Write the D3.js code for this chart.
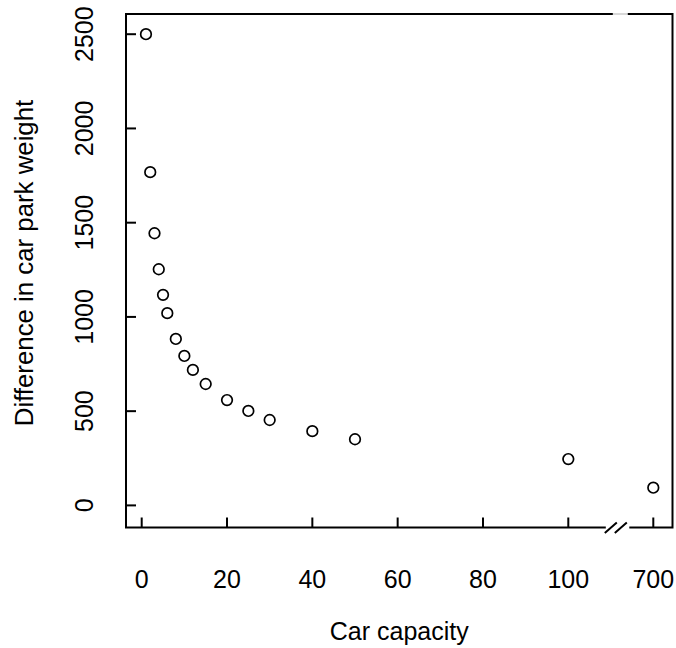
<!DOCTYPE html>
<html>
<head>
<meta charset="utf-8">
<script src="https://cdn.jsdelivr.net/npm/d3@7"></script>
<style>
  html, body { margin: 0; padding: 0; background: #fff; }
  svg { display: block; }
  text { font-family: "Liberation Sans", Arial, Helvetica, sans-serif; fill: #000; }
</style>
</head>
<body>
<svg id="chart" width="676" height="648"></svg>
<script>
// Car capacity vs. difference in car park weight
const capacity = [1, 2, 3, 4, 5, 6, 8, 10, 12, 15, 20, 25, 30, 40, 50, 100, 700];
const weightDiff = [2500, 1768, 1444, 1253, 1117, 1020, 883, 793, 719, 644, 559, 501, 453, 394, 351, 246, 94];

const xTicks = [0, 20, 40, 60, 80, 100, 700];
const yTicks = [0, 500, 1000, 1500, 2000, 2500];

const xLabel = "Car capacity";
const yLabel = "Difference in car park weight";

const W = 676, H = 648;
const box = { left: 126, right: 672.5, top: 14, bottom: 527.5 };

const svg = d3.select("#chart");

// x axis is broken between 100 and 700: 700 sits one tick-step past 100
const x = d3.scaleLinear()
  .domain([0, 100, 700])
  .range([141.7, 568.3, 653.3]);

const y = d3.scaleLinear()
  .domain([0, 2500])
  .range([505.4, 34.2]);

const stroke = "#000";
const tickLen = 10;
const fs = 25;

// plot frame
svg.append("rect")
  .attr("x", box.left).attr("y", box.top)
  .attr("width", box.right - box.left)
  .attr("height", box.bottom - box.top)
  .attr("fill", "none")
  .attr("stroke", stroke)
  .attr("stroke-width", 2);

// break in the bottom axis
const gapL = x(100) + 37.5, gapR = x(100) + 61;
svg.append("line")
  .attr("x1", gapL).attr("x2", gapR)
  .attr("y1", box.bottom).attr("y2", box.bottom)
  .attr("stroke", "#fff").attr("stroke-width", 4);
[gapL, gapL + 10].forEach(sx => {
  svg.append("line")
    .attr("x1", sx - 1).attr("y1", box.bottom + 5.5)
    .attr("x2", sx + 11).attr("y2", box.bottom - 5)
    .attr("stroke", stroke).attr("stroke-width", 2);
});
// faint mark on the top edge above the break
svg.append("line")
  .attr("x1", gapL + 7).attr("x2", gapL + 22)
  .attr("y1", box.top).attr("y2", box.top)
  .attr("stroke", "#d8d8d8").attr("stroke-width", 2);

// x ticks (inward) and labels
const xg = svg.append("g");
xg.selectAll("line").data(xTicks).join("line")
  .attr("x1", d => x(d)).attr("x2", d => x(d))
  .attr("y1", box.bottom).attr("y2", box.bottom - tickLen)
  .attr("stroke", stroke).attr("stroke-width", 2);
xg.selectAll("text").data(xTicks).join("text")
  .attr("x", d => x(d)).attr("y", 588)
  .attr("text-anchor", "middle")
  .attr("font-size", fs)
  .text(d => d);

// y ticks (inward) and labels
const yg = svg.append("g");
yg.selectAll("line").data(yTicks).join("line")
  .attr("x1", box.left).attr("x2", box.left + tickLen)
  .attr("y1", d => y(d)).attr("y2", d => y(d))
  .attr("stroke", stroke).attr("stroke-width", 2);
yg.selectAll("text").data(yTicks).join("text")
  .attr("transform", d => `translate(93,${y(d)}) rotate(-90)`)
  .attr("text-anchor", "middle")
  .attr("font-size", fs)
  .text(d => d);

// axis titles
svg.append("text")
  .attr("x", (box.left + box.right) / 2).attr("y", 640)
  .attr("text-anchor", "middle")
  .attr("font-size", fs)
  .text(xLabel);
svg.append("text")
  .attr("transform", `translate(33,263) rotate(-90)`)
  .attr("text-anchor", "middle")
  .attr("font-size", 25.8)
  .text(yLabel);

// points
svg.append("g").selectAll("circle")
  .data(capacity.map((c, i) => ({ c, w: weightDiff[i] })))
  .join("circle")
  .attr("cx", d => x(d.c))
  .attr("cy", d => y(d.w))
  .attr("r", 5.3)
  .attr("fill", "none")
  .attr("stroke", stroke)
  .attr("stroke-width", 1.7);
</script>
</body>
</html>
